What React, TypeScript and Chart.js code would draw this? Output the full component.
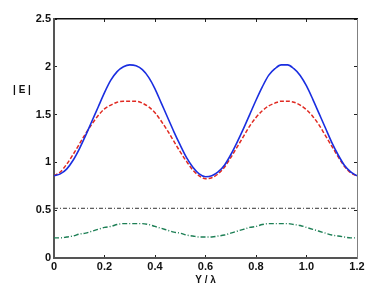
import React, { useEffect, useRef } from "react";
import { Chart, registerables } from "chart.js";

Chart.register(...registerables);

const xValues = [
  0, 0.025, 0.05, 0.075, 0.1, 0.125, 0.15, 0.175, 0.2, 0.225, 0.25, 0.275, 0.3, 0.325, 0.35, 0.375, 0.4, 0.425, 0.45, 0.475, 0.5, 0.525, 0.55, 0.575, 0.6,
  0.625, 0.65, 0.675, 0.7, 0.725, 0.75, 0.775, 0.8, 0.825, 0.85, 0.875, 0.9, 0.925, 0.95, 0.975, 1.0, 1.025, 1.05, 1.075, 1.1, 1.125, 1.15, 1.175, 1.2,
];
const blueValues = [
  0.86, 0.88, 0.93, 1.02, 1.14, 1.28, 1.43, 1.58, 1.73, 1.86, 1.95, 2.0, 2.02, 2.01, 1.97, 1.89, 1.77, 1.62, 1.47, 1.32, 1.18, 1.05, 0.95, 0.88, 0.85,
  0.86, 0.9, 0.97, 1.08, 1.21, 1.35, 1.5, 1.65, 1.79, 1.91, 1.98, 2.02, 2.02, 1.98, 1.91, 1.8, 1.66, 1.51, 1.36, 1.21, 1.08, 0.97, 0.9, 0.86,
];
const redValues = [
  0.86, 0.9, 0.98, 1.08, 1.19, 1.3, 1.4, 1.49, 1.56, 1.6, 1.63, 1.64, 1.64, 1.64, 1.62, 1.58, 1.52, 1.43, 1.33, 1.22, 1.11, 1.01, 0.92, 0.86, 0.83,
  0.84, 0.88, 0.95, 1.05, 1.16, 1.27, 1.38, 1.47, 1.54, 1.59, 1.62, 1.64, 1.64, 1.63, 1.6, 1.55, 1.48, 1.39, 1.28, 1.17, 1.06, 0.96, 0.89, 0.86,
];
const greenValues = [
  0.21, 0.21, 0.22, 0.23, 0.25, 0.26, 0.28, 0.3, 0.32, 0.33, 0.35, 0.36, 0.36, 0.36, 0.36, 0.35, 0.33, 0.31, 0.29, 0.27, 0.26, 0.24, 0.23, 0.22, 0.22,
  0.22, 0.23, 0.24, 0.26, 0.28, 0.3, 0.32, 0.33, 0.35, 0.36, 0.36, 0.36, 0.36, 0.35, 0.34, 0.32, 0.3, 0.28, 0.26, 0.24, 0.23, 0.22, 0.21, 0.21,
];
const blackX = [0, 0.3, 0.6, 0.9, 1.2];
const blackValues = [0.52, 0.52, 0.52, 0.52, 0.52];

const xTickValues = [0, 0.2, 0.4, 0.6, 0.8, 1.0, 1.2];
const xTickLabels = ["0", "0.2", "0.4", "0.6", "0.8", "1.0", "1.2"];
const yTickValues = [0, 0.5, 1, 1.5, 2, 2.5];
const yTickLabels = ["0", "0.5", "1", "1.5", "2", "2.5"];
const yAxisTitle = "| E |";
const xAxisTitle = "Y / λ";

const FONT = "'Liberation Sans', Arial, sans-serif";

const toXY = (xs: number[], ys: number[]) => ys.map((y, i) => ({ x: xs[i], y }));

const labelFor = (vals: number[], labels: string[]) => (v: any) => {
  const i = vals.findIndex((t) => Math.abs(t - v) < 1e-6);
  return i >= 0 ? labels[i] : "";
};

export default function App() {
  const ref = useRef<HTMLCanvasElement>(null);
  useEffect(() => {
    document.body.style.margin = "0";
    const canvas = ref.current!;
    const titlePlugin = {
      id: "titles",
      afterDraw(chart: any) {
        const ctx: CanvasRenderingContext2D = chart.ctx;
        const a = chart.chartArea;
        ctx.save();
        ctx.fillStyle = "#111111";
        ctx.font = `bold 10px ${FONT}`;
        ctx.textAlign = "center";
        ctx.textBaseline = "middle";
        ctx.fillText(yAxisTitle, 22, 90);
        ctx.fillText(xAxisTitle, (a.left + a.right) / 2, 280);
        ctx.restore();
      },
    };
    const xTicks = (s: any) => {
      s.ticks = xTickValues.map((v) => ({ value: v }));
    };
    const yTicks = (s: any) => {
      s.ticks = yTickValues.map((v) => ({ value: v }));
    };
    const chart = new Chart(canvas, {
      type: "line",
      data: {
        datasets: [
          {
            data: toXY(xValues, blueValues),
            borderColor: "#1a2ee0",
            borderWidth: 1.6,
            pointRadius: 0,
            cubicInterpolationMode: "monotone",
          },
          {
            data: toXY(xValues, redValues),
            borderColor: "#e02a22",
            borderWidth: 1.5,
            borderDash: [4, 2],
            pointRadius: 0,
            cubicInterpolationMode: "monotone",
          },
          {
            data: toXY(blackX, blackValues),
            borderColor: "#333333",
            borderWidth: 1,
            borderDash: [4, 2, 1, 2],
            pointRadius: 0,
          },
          {
            data: toXY(xValues, greenValues),
            borderColor: "#1d7f55",
            borderWidth: 1.4,
            borderDash: [5, 2, 1, 2],
            pointRadius: 0,
            cubicInterpolationMode: "monotone",
          },
        ],
      },
      options: {
        animation: false,
        responsive: false,
        layout: { padding: { top: 19, right: 18, left: 0, bottom: 0 } },
        plugins: { legend: { display: false }, tooltip: { enabled: false } },
        scales: {
          x: {
            type: "linear",
            position: "bottom",
            min: 0,
            max: 1.2,
            border: { display: true, color: "#555555", width: 2 },
            grid: { display: true, drawOnChartArea: false, drawTicks: true, tickLength: -3, color: "#222222", lineWidth: 1 },
            afterBuildTicks: xTicks,
            afterFit: (s: any) => {
              s.height = 26;
            },
            ticks: {
              padding: 5,
              color: "#111",
              font: { family: FONT, size: 11, weight: "bold" },
              maxRotation: 0,
              callback: labelFor(xTickValues, xTickLabels),
            },
          },
          x2: {
            type: "linear",
            axis: "x",
            position: "top",
            min: 0,
            max: 1.2,
            border: { display: true, color: "#111111", width: 1.5 },
            grid: { display: true, drawOnChartArea: false, drawTicks: true, tickLength: -3, color: "#222222", lineWidth: 1 },
            afterBuildTicks: xTicks,
            afterFit: (s: any) => {
              s.height = 0;
            },
            ticks: { display: false },
          },
          y: {
            type: "linear",
            position: "left",
            min: 0,
            max: 2.5,
            border: { display: true, color: "#555555", width: 2 },
            grid: { display: true, drawOnChartArea: false, drawTicks: true, tickLength: -3, color: "#222222", lineWidth: 1 },
            afterBuildTicks: yTicks,
            afterFit: (s: any) => {
              s.width = 54;
            },
            ticks: {
              padding: 6,
              color: "#111",
              font: { family: FONT, size: 11, weight: "bold" },
              callback: labelFor(yTickValues, yTickLabels),
            },
          },
          y2: {
            type: "linear",
            axis: "y",
            position: "right",
            min: 0,
            max: 2.5,
            border: { display: true, color: "#808080", width: 1 },
            grid: { display: true, drawOnChartArea: false, drawTicks: true, tickLength: -3, color: "#222222", lineWidth: 1 },
            afterBuildTicks: yTicks,
            afterFit: (s: any) => {
              s.width = 0;
            },
            ticks: { display: false },
          },
        },
      },
      plugins: [titlePlugin],
    } as any);
    return () => chart.destroy();
  }, []);
  return <canvas ref={ref} width={375} height={284} style={{ display: "block" }} />;
}
